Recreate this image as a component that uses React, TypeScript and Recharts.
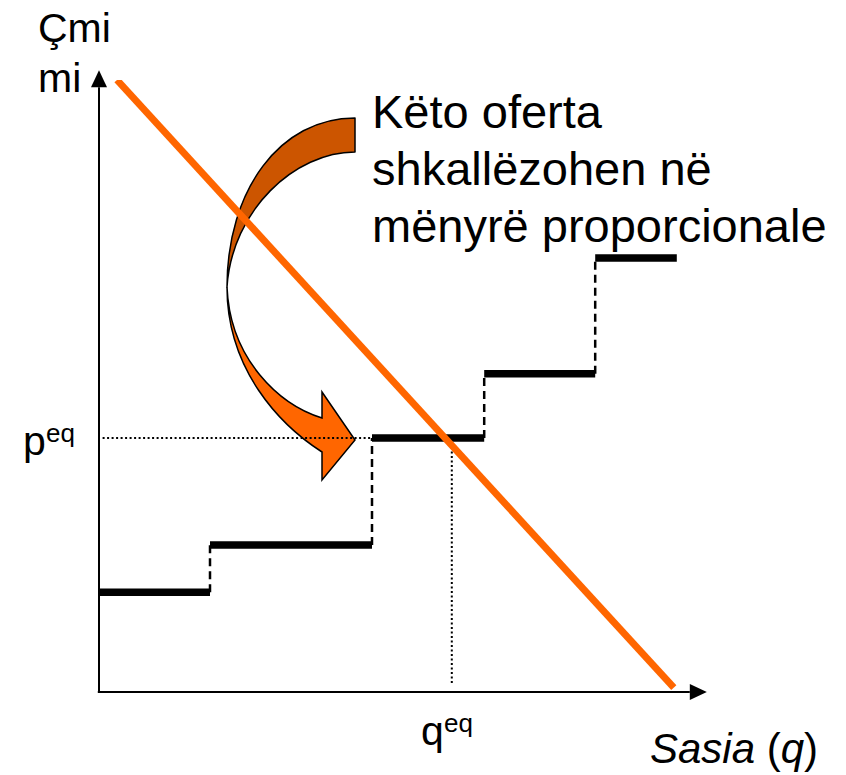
import React from "react"
import { ComposedChart, Line, XAxis, YAxis, ReferenceLine } from "recharts"

// quantity breakpoints of the supply steps (q axis, 0..100)
const stepBreaks = [0, 18.5, 45.5, 64.2, 82.7, 96.3]
// price of each supply step (p axis, 0..100)
const stepPrices = [16.3, 24.0, 41.5, 52.0, 70.9]
// demand line end points
const demandQ = [3, 95.8]
const demandP = [100, 0.7]
// equilibrium
const qEq = 58.8
const pEq = 41.5
const qEqFloor = 1.1
// axis arrows reach a little past the domain
const axisTipQ = 101.3
const axisTipP = 101.6

const textLines = ["Këto oferta", "shkallëzohen në", "mënyrë proporcionale"]

const demandData = demandQ.map((q, i) => ({ q, p: demandP[i] }))

const FONT = "'Liberation Sans', Arial, Helvetica, sans-serif"
const ORANGE = "#FF6600"
const DARK_ORANGE = "#CC5500"

const ArrowAxis = (props: any) => {
  const { x1, y1, x2, y2 } = props
  const dx = x2 - x1
  const dy = y2 - y1
  const len = Math.hypot(dx, dy) || 1
  const ux = dx / len
  const uy = dy / len
  const head = 17
  const half = 8
  const bx = x2 - ux * head
  const by = y2 - uy * head
  const px = -uy
  const py = ux
  return (
    <g>
      <line x1={x1} y1={y1} x2={bx} y2={by} stroke="#000" strokeWidth={2} />
      <polygon
        points={`${x2},${y2} ${bx + px * half},${by + py * half} ${bx - px * half},${by - py * half}`}
        fill="#000"
      />
    </g>
  )
}

function Decorations() {
  return (
    <svg width={846} height={775} style={{ position: "absolute", left: 0, top: 0 }}>
      {/* curved arrow: back (dark) part */}
      <path
        d="M 355 118 C 280 118, 227 190, 227 287 C 232 210, 295 152, 355 152 Z"
        fill={DARK_ORANGE}
        stroke="#000"
        strokeWidth={1.5}
        strokeLinejoin="round"
      />
      {/* curved arrow: front part with head */}
      <path
        d="M 227 287 C 227 370, 280 425, 322 452 L 322 480 L 355 440 L 322 392 L 322 418 C 280 405, 230 360, 227 287 Z"
        fill={ORANGE}
        stroke="#000"
        strokeWidth={1.5}
        strokeLinejoin="miter"
      />
      <g fontFamily={FONT} fill="#000">
        <text x={38} y={42} fontSize={41}>Çmi</text>
        <text x={38} y={92} fontSize={41}>mi</text>
        {textLines.map((t, i) => (
          <text key={t} x={372} y={128 + i * 57} fontSize={47}>
            {t}
          </text>
        ))}
        <text x={23} y={455} fontSize={41}>p</text>
        <text x={46} y={442} fontSize={26}>eq</text>
        <text x={421} y={745} fontSize={41}>q</text>
        <text x={444} y={732} fontSize={26}>eq</text>
        <text x={650} y={763} fontSize={42}>
          <tspan fontStyle="italic">Sasia</tspan>
          <tspan> (</tspan>
          <tspan fontStyle="italic">q</tspan>
          <tspan>)</tspan>
        </text>
      </g>
    </svg>
  )
}

export default function App() {
  const steps = stepPrices.map((p, i) => ({ q0: stepBreaks[i], q1: stepBreaks[i + 1], p }))
  const risers = stepPrices.slice(0, -1).map((p, i) => ({ q: stepBreaks[i + 1], p0: p, p1: stepPrices[i + 1] }))

  return (
    <div style={{ position: "absolute", left: 0, top: 0, width: 846, height: 775, background: "#fff" }}>
      <Decorations />
      <div style={{ position: "absolute", left: 0, top: 0 }}>
        <ComposedChart width={846} height={775} margin={{ top: 80, right: 147, bottom: 83, left: 99 }}>
          <XAxis type="number" dataKey="q" domain={[0, 100]} hide allowDataOverflow />
          <YAxis type="number" dataKey="p" domain={[0, 100]} hide allowDataOverflow />

          {/* axes with arrow heads */}
          <ReferenceLine
            segment={[{ x: 0, y: 0 }, { x: 0, y: axisTipP }]}
            ifOverflow="visible"
            shape={ArrowAxis}
          />
          <ReferenceLine
            segment={[{ x: -0.2, y: 0 }, { x: axisTipQ, y: 0 }]}
            ifOverflow="visible"
            shape={ArrowAxis}
          />

          {/* equilibrium guides */}
          <ReferenceLine
            segment={[{ x: 0.6, y: pEq }, { x: stepBreaks[2], y: pEq }]}
            stroke="#000"
            strokeWidth={2}
            strokeDasharray="2 2.5"
            ifOverflow="visible"
          />
          <ReferenceLine
            segment={[{ x: qEq, y: pEq }, { x: qEq, y: qEqFloor }]}
            stroke="#000"
            strokeWidth={2}
            strokeDasharray="2 2.5"
            ifOverflow="visible"
          />

          {/* supply risers (dashed) */}
          {risers.map((r) => (
            <ReferenceLine
              key={`r${r.q}`}
              segment={[{ x: r.q, y: r.p0 }, { x: r.q, y: r.p1 }]}
              stroke="#000"
              strokeWidth={2.5}
              strokeDasharray="8 5"
              ifOverflow="visible"
            />
          ))}

          {/* supply steps (thick) */}
          {steps.map((s) => (
            <ReferenceLine
              key={`s${s.q0}`}
              segment={[{ x: s.q0, y: s.p }, { x: s.q1, y: s.p }]}
              stroke="#000"
              strokeWidth={7.5}
              ifOverflow="visible"
            />
          ))}

          <Line
            data={demandData}
            dataKey="p"
            type="linear"
            stroke={ORANGE}
            strokeWidth={7}
            dot={false}
            activeDot={false}
            isAnimationActive={false}
          />
        </ComposedChart>
      </div>
    </div>
  )
}
